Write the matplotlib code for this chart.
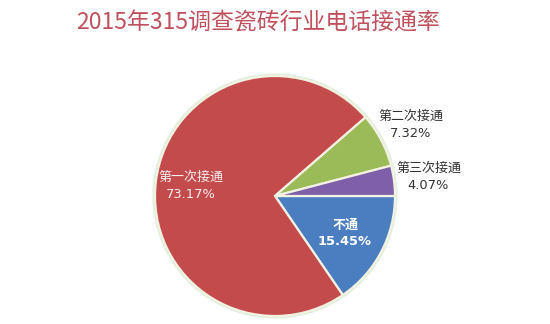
import numpy as np
import matplotlib
matplotlib.use("Agg")
import matplotlib.pyplot as plt
from matplotlib.patches import Circle

plt.rcParams['font.family'] = ['Noto Sans CJK SC', 'DejaVu Sans']

title = "2015年315调查瓷砖行业电话接通率"
categories = ["不通", "第一次接通", "第二次接通", "第三次接通"]
values = [15.45, 73.17, 7.32, 4.07]
colors = ["#4A7EC0", "#C44B4B", "#9BBB59", "#7E5FA8"]

W, H = 550, 324
fig = plt.figure(figsize=(W / 100, H / 100), dpi=100)
ax = fig.add_axes([0, 0, 1, 1])

cx, cy, R = 275, H - 196, 120

# soft rim around the pie
ax.add_patch(Circle((cx, cy), R + 1.2, facecolor='none', edgecolor='#e2f0de', lw=2.0, zorder=1))

wedges, _ = ax.pie(values, colors=colors, startangle=0, counterclock=False,
                   center=(cx, cy), radius=R, frame=True,
                   wedgeprops=dict(edgecolor='#f3f1e2', linewidth=1.6))
ax.set_xlim(0, W)
ax.set_ylim(0, H)
ax.set_aspect('equal')
ax.axis('off')

# label placement: fraction of radius, text colour, weight
placement = {
    "不通": (0.66, 'white', 'bold'),
    "第一次接通": (0.71, '#f4eeee', 'normal'),
    "第二次接通": (1.28, '#333333', 'normal'),
    "第三次接通": (1.29, '#333333', 'normal'),
}
for w, cat, val in zip(wedges, categories, values):
    mid = np.deg2rad((w.theta1 + w.theta2) / 2)
    frac, col, wt = placement[cat]
    x = cx + frac * R * np.cos(mid)
    y = cy + frac * R * np.sin(mid)
    ax.text(x, y + 8, cat, ha='center', va='center', fontsize=9.4, color=col, fontweight=wt)
    ax.text(x, y - 9, f"{val:.2f}%", ha='center', va='center', fontsize=9.4, color=col,
            fontweight=wt, family=['DejaVu Sans'])

ax.text(W / 2 - 17, H - 23, title, ha='center', va='center', fontsize=16.5, color='#C0505C')

fig.savefig("out.png", dpi=100, facecolor='white')
